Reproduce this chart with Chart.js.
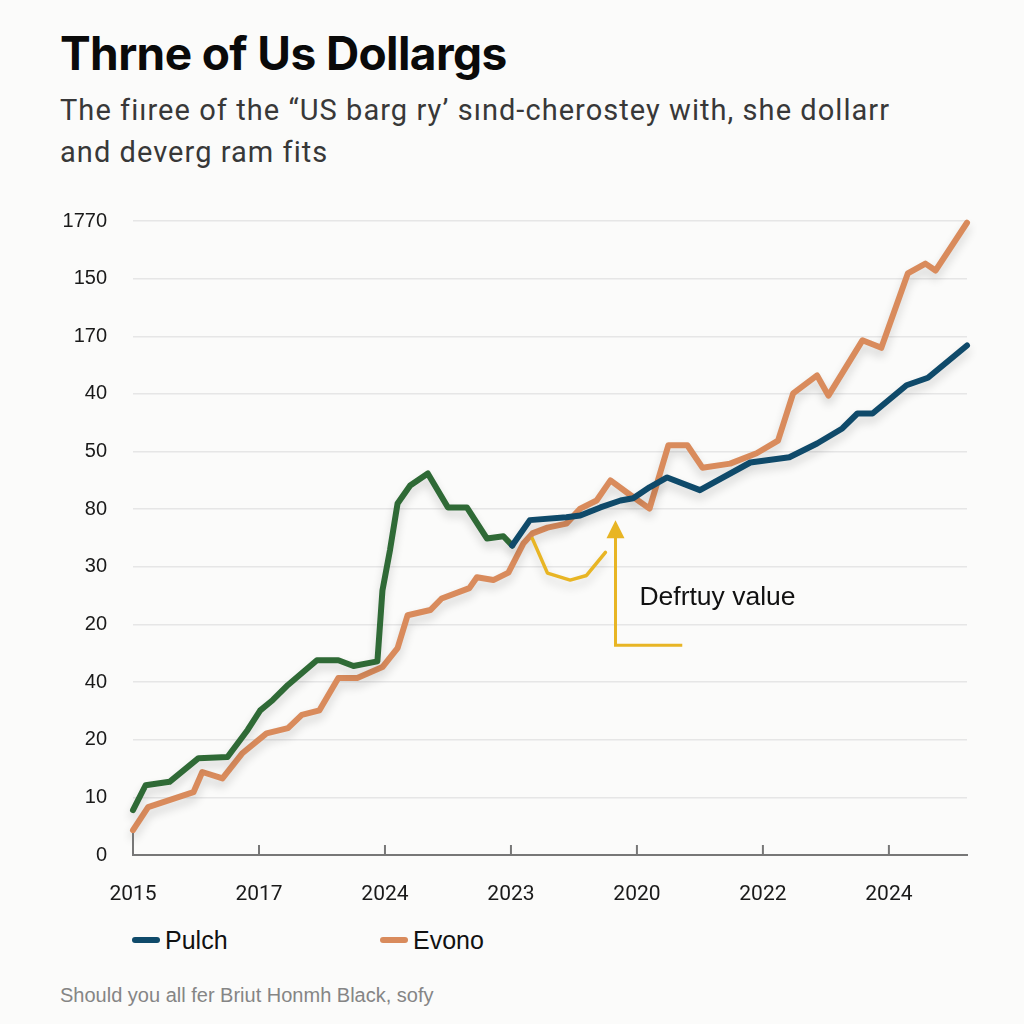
<!DOCTYPE html>
<html>
<head>
<meta charset="utf-8">
<script src="https://cdn.jsdelivr.net/npm/chart.js@4.4.1/dist/chart.umd.min.js"></script>
<style>
  body { margin: 0; width: 1024px; height: 1024px; background: #fbfbfa; position: relative; overflow: hidden; }
  #title { position: absolute; left: 60px; top: 25px; font: bold 46px Inter, sans-serif; letter-spacing: -0.6px; color: #0a0a0a; }
  #subtitle { position: absolute; left: 60px; top: 89px; font: 29px Roboto, sans-serif; letter-spacing: 1.05px; line-height: 42px; color: #383838; }
  #chart { position: absolute; left: 0; top: 183px; }
  #legend { position: absolute; left: 0; top: 924px; width: 1024px; height: 32px; font: 25px "Liberation Sans", Arial, sans-serif; color: #111; }
  .item { position: absolute; top: 0; display: flex; align-items: center; height: 32px; }
  .swatch { width: 28px; height: 6px; border-radius: 3px; margin-right: 5px; }
  #footer { position: absolute; left: 60px; top: 984px; font: 20px "Liberation Sans", Arial, sans-serif; color: #858585; }
</style>
</head>
<body>
<div id="title">Thrne of Us Dollargs</div>
<div id="subtitle">The fiıree of the “US barg ry’ sınd-cherostey with, she dollarr<br>and deverg ram fits</div>
<canvas id="chart" width="1024" height="737"></canvas>
<div id="legend"></div>
<div id="footer">Should you all fer Briut Honmh Black, sofy</div>
<script>
// tick labels as printed on the chart
var xTickLabels = ['2015', '2017', '2024', '2023', '2020', '2022', '2024'];
var yTickLabels = ['0', '10', '20', '40', '20', '30', '80', '50', '40', '170', '150', '1770'];

// early part of the series (green)
var earlyX = [0, 0.1, 0.29, 0.52, 0.75, 0.91, 1.01, 1.11, 1.23, 1.46, 1.63, 1.75, 1.94, 1.98, 2.04, 2.1, 2.2, 2.34, 2.5, 2.65, 2.81, 2.94, 3.01];
var earlyY = [0.78, 1.21, 1.27, 1.68, 1.7, 2.17, 2.51, 2.69, 2.95, 3.38, 3.38, 3.28, 3.36, 4.59, 5.29, 6.1, 6.41, 6.62, 6.03, 6.03, 5.49, 5.53, 5.37];

var pulchX = [3.01, 3.15, 3.44, 3.55, 3.71, 3.87, 3.97, 4.1, 4.24, 4.5, 4.9, 5.21, 5.43, 5.63, 5.75, 5.87, 6.14, 6.31, 6.62];
var pulchY = [5.37, 5.81, 5.86, 5.89, 6.03, 6.15, 6.19, 6.38, 6.55, 6.33, 6.81, 6.9, 7.14, 7.4, 7.66, 7.66, 8.15, 8.28, 8.84];

var evonoX = [0, 0.12, 0.48, 0.55, 0.71, 0.87, 1.06, 1.23, 1.34, 1.48, 1.63, 1.78, 1.98, 2.1, 2.18, 2.36, 2.45, 2.67, 2.73, 2.86, 2.98, 3.1, 3.17, 3.29, 3.44, 3.55, 3.68, 3.79, 3.92, 4.1, 4.25, 4.4, 4.52, 4.74, 4.95, 5.12, 5.24, 5.43, 5.52, 5.79, 5.94, 6.15, 6.29, 6.37, 6.62];
var evonoY = [0.43, 0.83, 1.09, 1.44, 1.33, 1.77, 2.11, 2.2, 2.43, 2.51, 3.07, 3.07, 3.26, 3.59, 4.16, 4.25, 4.45, 4.63, 4.82, 4.77, 4.9, 5.41, 5.58, 5.68, 5.75, 6.01, 6.15, 6.5, 6.29, 6.01, 7.11, 7.11, 6.72, 6.79, 6.97, 7.19, 8.01, 8.32, 7.97, 8.93, 8.8, 10.09, 10.26, 10.14, 10.97];

// small yellow dip under the lines
var dipX = [3.17, 3.29, 3.47, 3.6, 3.75];
var dipY = [5.49, 4.89, 4.77, 4.85, 5.25];

// annotation
var noteText = 'Defrtuy value';
var arrowX = 3.83, arrowTop = 5.81, arrowBottom = 3.64, arrowEnd = 4.36;
var noteX = 4.02, noteY = 4.47;

function pts(xs, ys) {
    return xs.map(function (x, i) { return { x: x, y: ys[i] }; });
}

var navy = '#0f4a6a', orange = '#d98b5c', green = '#2f6a36', yellow = '#e8b524';

var lineStyle = { borderWidth: 6, pointRadius: 0, tension: 0, borderJoinStyle: 'round', borderCapStyle: 'round', fill: false, clip: false };

var datasets = [
    Object.assign({ label: 'Pulch', data: pts(pulchX, pulchY), borderColor: navy, order: 0, inLegend: true }, lineStyle),
    Object.assign({ label: 'early', data: pts(earlyX, earlyY), borderColor: green, order: 1 }, lineStyle),
    Object.assign({ label: 'dip', data: pts(dipX, dipY), borderColor: yellow, order: 2 }, lineStyle, { borderWidth: 3.5 }),
    Object.assign({ label: 'Evono', data: pts(evonoX, evonoY), borderColor: orange, order: 3, inLegend: true }, lineStyle)
];

var shadowPlugin = {
    id: 'shadow',
    beforeDatasetsDraw: function (chart) {
        var ctx = chart.ctx;
        ctx.save();
        ctx.shadowColor = 'rgba(0,0,0,0.16)';
        ctx.shadowBlur = 10;
        ctx.shadowOffsetY = 6;
    },
    afterDatasetsDraw: function (chart) {
        chart.ctx.restore();
    }
};

var extrasPlugin = {
    id: 'extras',
    afterDraw: function (chart) {
        var ctx = chart.ctx, xs = chart.scales.x, ys = chart.scales.y;
        var base = ys.getPixelForValue(0);
        // little ticks standing on the x axis
        ctx.save();
        ctx.strokeStyle = '#777';
        ctx.lineWidth = 2;
        xTickLabels.forEach(function (l, i) {
            var px = xs.getPixelForValue(i);
            ctx.beginPath();
            ctx.moveTo(px, base);
            ctx.lineTo(px, base - (i == 0 ? 22 : 10));
            ctx.stroke();
        });
        // arrow
        var ax = xs.getPixelForValue(arrowX), top = ys.getPixelForValue(arrowTop);
        var bot = ys.getPixelForValue(arrowBottom), end = xs.getPixelForValue(arrowEnd);
        ctx.strokeStyle = yellow;
        ctx.fillStyle = yellow;
        ctx.lineWidth = 3;
        ctx.beginPath();
        ctx.moveTo(ax, top + 14);
        ctx.lineTo(ax, bot);
        ctx.lineTo(end, bot);
        ctx.stroke();
        ctx.beginPath();
        ctx.moveTo(ax, top);
        ctx.lineTo(ax - 9, top + 18);
        ctx.lineTo(ax + 9, top + 18);
        ctx.closePath();
        ctx.fill();
        // note
        ctx.fillStyle = '#111';
        ctx.font = '26.5px "Liberation Sans", Arial, sans-serif';
        ctx.textAlign = 'left';
        ctx.textBaseline = 'middle';
        ctx.fillText(noteText, xs.getPixelForValue(noteX), ys.getPixelForValue(noteY));
        ctx.restore();
    }
};

new Chart(document.getElementById('chart').getContext('2d'), {
    type: 'line',
    data: { datasets: datasets },
    options: {
        responsive: false,
        animation: false,
        layout: { padding: { top: 23, right: 57, left: 0, bottom: 0 } },
        plugins: { legend: { display: false }, tooltip: { enabled: false } },
        scales: {
            x: {
                type: 'linear',
                min: 0,
                max: 6.62,
                afterBuildTicks: function (scale) {
                    scale.ticks = xTickLabels.map(function (l, i) { return { value: i }; });
                },
                afterFit: function (scale) { scale.height = 65; },
                grid: { display: false, drawTicks: false },
                border: { display: true, color: '#777', width: 2 },
                ticks: {
                    padding: 27,
                    color: '#1a1a1a',
                    font: { family: 'Roboto', size: 21 },
                    maxRotation: 0,
                    callback: function (v, i) { return xTickLabels[i]; }
                }
            },
            y: {
                min: 0,
                max: 11,
                afterBuildTicks: function (scale) {
                    scale.ticks = yTickLabels.map(function (l, i) { return { value: i }; });
                },
                afterFit: function (scale) { scale.width = 133; },
                grid: { color: '#e6e6e6', lineWidth: 1.5, drawTicks: false },
                border: { display: false },
                ticks: {
                    padding: 26,
                    color: '#1a1a1a',
                    font: { family: '"Liberation Sans", Arial', size: 20 },
                    callback: function (v, i) { return yTickLabels[i]; }
                }
            }
        }
    },
    plugins: [shadowPlugin, extrasPlugin]
});

// legend from the datasets that are meant to be listed
var legendLeft = [132, 380];
var legend = document.getElementById('legend');
datasets.filter(function (d) { return d.inLegend; }).forEach(function (d, i) {
    var item = document.createElement('div');
    item.className = 'item';
    item.style.left = legendLeft[i] + 'px';
    item.innerHTML = '<span class="swatch" style="background:' + d.borderColor + '"></span><span>' + d.label + '</span>';
    legend.appendChild(item);
});
</script>
</body>
</html>
